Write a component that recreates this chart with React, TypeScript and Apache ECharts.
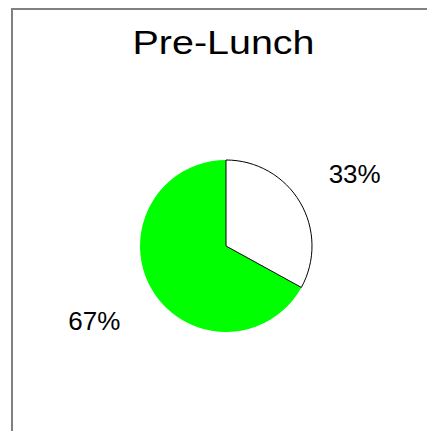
import React, { useEffect, useRef } from "react";
import * as echarts from "echarts";

const chartTitle = "Pre-Lunch";
const sliceNames = ["Other", "Share"];
const sliceValues = [67, 33];
const sliceColors = ["#00ff00", "#ffffff"];
const sliceBorderWidths = [0, 1];

export default function App() {
  const ref = useRef<HTMLDivElement>(null);
  useEffect(() => {
    if (!ref.current) return;
    const chart = echarts.init(ref.current, undefined, { renderer: "svg" });
    const total = sliceValues.reduce((a, b) => a + b, 0);
    const labelShift = [
      [-6, 1],
      [3, 2],
    ];
    chart.setOption({
      animation: false,
      backgroundColor: "#ffffff",
      graphic: [
        {
          type: "rect",
          shape: { x: 12, y: 9, width: 700, height: 700 },
          style: { fill: "none", stroke: "#808080", lineWidth: 2 },
          silent: true,
        },
        {
          type: "text",
          x: 223.5,
          y: 42,
          scaleX: 1.16,
          style: {
            text: chartTitle,
            font: "34px 'Liberation Sans', Arial, sans-serif",
            fill: "#000000",
            align: "center",
            verticalAlign: "middle",
          },
        },
      ],
      series: [
        {
          type: "pie",
          center: [226, 246],
          radius: 86,
          startAngle: 90,
          clockwise: false,
          label: {
            show: true,
            position: "outside",
            fontFamily: "'Liberation Sans', Arial, sans-serif",
            fontSize: 26,
            color: "#000000",
            distanceToLabelLine: 0,
            formatter: (p: any) => Math.round((p.value / total) * 100) + "%",
          },
          labelLine: { show: false, length: 60, length2: 0 },
          labelLayout: (p: any) => ({
            align: "center",
            verticalAlign: "middle",
            dx: labelShift[p.dataIndex][0],
            dy: labelShift[p.dataIndex][1],
          }),
          emphasis: { disabled: true },
          data: sliceNames.map((n, i) => ({
            name: n,
            value: sliceValues[i],
            itemStyle: {
              color: sliceColors[i],
              borderColor: "#000000",
              borderWidth: sliceBorderWidths[i],
            },
          })),
        },
      ],
    });
    return () => chart.dispose();
  }, []);
  return (
    <div
      ref={ref}
      style={{ position: "fixed", left: 0, top: 0, width: 427, height: 431 }}
    />
  );
}
